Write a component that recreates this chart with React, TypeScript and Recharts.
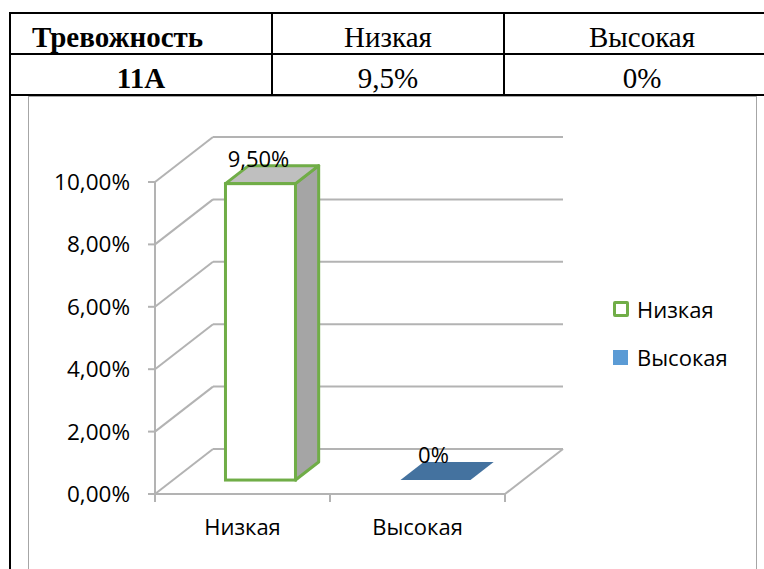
import React from 'react';
import { BarChart, Bar, XAxis, YAxis, CartesianGrid, Legend, LabelList } from 'recharts';

const categories = ['Низкая', 'Высокая'];
const values = [9.5, 0];
const yTicks = [0, 2, 4, 6, 8, 10];
const tableHead = ['Тревожность', 'Низкая', 'Высокая'];
const tableRow = ['11А', '9,5%', '0%'];
const legendColors = ['#70ad47', '#5b9bd5'];

const W = 764;
const H = 569;
const margin = { top: 182, right: 259, left: 0, bottom: 35 };
const X_AXIS_H = 40;
const Y_AXIS_W = 155;
const PLOT_BOTTOM = H - margin.bottom - X_AXIS_H;

// fake 3d: back wall offset and where the bars sit in depth
const DX = 58;
const DY = -45;
const BAR_FRONT = 0.31;
const BAR_DEPTH = 0.4;

const GRID = '#b3b3b3';
const FONT = "'Open Sans', sans-serif";
const SERIF = "'Liberation Serif', 'Times New Roman', serif";

const data = categories.map((name, i) => ({ name, value: values[i] }));

const fmtAxis = (v: number) => v.toFixed(2).replace('.', ',') + '%';
const fmtLabel = (v: number) => (v === 0 ? '0%' : v.toFixed(2).replace('.', ',') + '%');

const GridLine = (props: any) => {
  const { x1, x2, y1 } = props;
  const isFloor = Math.abs(y1 - PLOT_BOTTOM) < 1;
  return (
    <g key={props.key}>
      <line x1={x1} y1={y1} x2={x1 + DX} y2={y1 + DY} stroke={GRID} strokeWidth={2} />
      <line x1={x1 + DX} y1={y1 + DY} x2={x2 + DX} y2={y1 + DY} stroke={GRID} strokeWidth={2} />
      {isFloor && (
        <>
          <line x1={x2} y1={y1} x2={x2 + DX} y2={y1 + DY} stroke={GRID} strokeWidth={2} />
          {[x1, (x1 + x2) / 2, x2].map((tx, i) => (
            <line key={i} x1={tx} y1={y1} x2={tx} y2={y1 + 8} stroke={GRID} strokeWidth={2} />
          ))}
        </>
      )}
    </g>
  );
};

const Bar3D = (props: any) => {
  const { x, y, width, height, index } = props;
  const fx = x + DX * BAR_FRONT;
  const fy = y + DY * BAR_FRONT;
  const dx = DX * BAR_DEPTH;
  const dy = DY * BAR_DEPTH;
  if (!height || height < 0.5) {
    const pts = `${fx},${fy} ${fx + width},${fy} ${fx + width + dx},${fy + dy} ${fx + dx},${fy + dy}`;
    return <polygon points={pts} fill={index === 1 ? '#44729f' : '#bfbfbf'} />;
  }
  const top = `${fx},${fy} ${fx + width},${fy} ${fx + width + dx},${fy + dy} ${fx + dx},${fy + dy}`;
  const side = `${fx + width},${fy} ${fx + width + dx},${fy + dy} ${fx + width + dx},${fy + height + dy} ${fx + width},${fy + height}`;
  return (
    <g>
      <polygon points={side} fill="#a5a5a5" stroke="#70ad47" strokeWidth={3} strokeLinejoin="round" />
      <polygon points={top} fill="#bfbfbf" stroke="#70ad47" strokeWidth={3} strokeLinejoin="round" />
      <rect x={fx} y={fy} width={width} height={height} fill="#ffffff" stroke="#70ad47" strokeWidth={3} />
    </g>
  );
};

const BarLabel = (props: any) => {
  const { x, y, width, value } = props;
  return (
    <text
      x={x + width / 2 + DX * BAR_FRONT - 2}
      y={y + DY * BAR_FRONT - 26}
      textAnchor="middle"
      dominantBaseline="central"
      fontFamily={FONT}
      fontSize={22}
      fill="#000"
    >
      {fmtLabel(value)}
    </text>
  );
};

const LegendBox = () => (
  <div style={{ fontFamily: FONT, fontSize: 22, color: '#000' }}>
    {categories.map((c, i) => (
      <div key={c} style={{ display: 'flex', alignItems: 'center', height: 48 }}>
        <span
          style={{
            display: 'inline-block',
            boxSizing: 'border-box',
            width: i === 0 ? 16 : 15,
            height: i === 0 ? 16 : 15,
            border: i === 0 ? `3px solid ${legendColors[0]}` : 'none',
            borderRadius: i === 0 ? 2 : 0,
            background: i === 0 ? '#fff' : legendColors[1],
            marginRight: i === 0 ? 8 : 9,
          }}
        />
        <span>{c}</span>
      </div>
    ))}
  </div>
);

const line = (style: React.CSSProperties) => (
  <div style={{ position: 'absolute', background: '#000', ...style }} />
);

const cell = (text: string, left: number, width: number, top: number, bold: boolean, alignLeft = false) => (
  <div
    style={{
      position: 'absolute',
      left: alignLeft ? left + 22 : left,
      width: alignLeft ? width - 22 : width,
      top,
      height: 40,
      lineHeight: '40px',
      textAlign: alignLeft ? 'left' : 'center',
      fontFamily: SERIF,
      fontSize: 29,
      fontWeight: bold ? 700 : 400,
      color: '#000',
    }}
  >
    {text}
  </div>
);

export default function App() {
  const cols = [10, 272, 504, 780];
  return (
    <div style={{ position: 'absolute', left: 0, top: 0, width: W, height: H, background: '#fff', overflow: 'hidden' }}>
      {/* table */}
      {line({ left: 9, top: 12, width: W, height: 2 })}
      {line({ left: 9, top: 53, width: W, height: 2 })}
      {line({ left: 9, top: 94, width: W, height: 2 })}
      {line({ left: 9, top: 12, width: 2, height: H })}
      {line({ left: 271, top: 12, width: 2, height: 84 })}
      {line({ left: 503, top: 12, width: 2, height: 84 })}
      {tableHead.map((t, i) => cell(t, cols[i], cols[i + 1] - cols[i], 17, i === 0, i === 0))}
      {tableRow.map((t, i) => cell(t, cols[i], cols[i + 1] - cols[i], 58, i === 0))}
      {/* chart frame */}
      <div style={{ position: 'absolute', left: 28, top: 96, width: 729, height: H, border: '1px solid #a6a6a6', boxSizing: 'border-box' }} />

      <div style={{ position: 'absolute', left: 0, top: 0 }}>
        <BarChart width={W} height={H} data={data} margin={margin} barCategoryGap="30%">
          <CartesianGrid vertical={false} horizontal={GridLine as any} />
          <XAxis
            dataKey="name"
            height={X_AXIS_H}
            axisLine={{ stroke: GRID, strokeWidth: 2 }}
            tickLine={false}
            tickMargin={19}
            tick={{ fontFamily: FONT, fontSize: 22, fill: '#000' }}
          />
          <YAxis
            width={Y_AXIS_W}
            domain={[0, 10]}
            ticks={yTicks}
            tickFormatter={fmtAxis}
            axisLine={{ stroke: GRID, strokeWidth: 2 }}
            tickLine={{ stroke: GRID, strokeWidth: 2 }}
            tickSize={7}
            tickMargin={18}
            tick={{ fontFamily: FONT, fontSize: 22.5, fill: '#000' }}
          />
          <Bar dataKey="value" shape={Bar3D} isAnimationActive={false}>
            <LabelList dataKey="value" content={BarLabel} />
          </Bar>
          <Legend
            layout="vertical"
            align="center"
            verticalAlign="middle"
            content={LegendBox}
            wrapperStyle={{ left: 613, top: 285, width: 150 }}
          />
        </BarChart>
      </div>
    </div>
  );
}
